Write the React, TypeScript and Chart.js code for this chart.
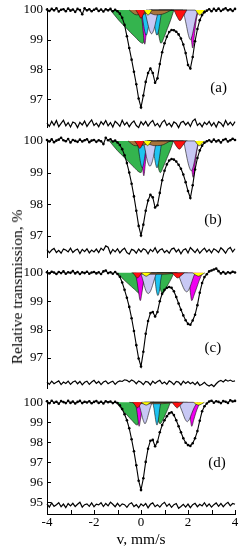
import React, { useEffect, useRef } from 'react';
import { Chart, registerables } from 'chart.js';

Chart.register(...registerables);

const SERIF = '"Liberation Serif", "Times New Roman", Times, serif';

// Velocity grid, mm/s
const velocity = [
  -4.0, -3.9, -3.8, -3.7, -3.6, -3.5, -3.4, -3.3, -3.2, -3.1,
  -3.0, -2.9, -2.8, -2.7, -2.6, -2.5, -2.4, -2.3, -2.2, -2.1,
  -2.0, -1.9, -1.8, -1.7, -1.6, -1.5, -1.4, -1.3, -1.2, -1.1,
  -1.0, -0.9, -0.8, -0.7, -0.6, -0.5, -0.4, -0.3, -0.2, -0.1,
  0.0, 0.1, 0.2, 0.3, 0.4, 0.5, 0.6, 0.7, 0.8, 0.9,
  1.0, 1.1, 1.2, 1.3, 1.4, 1.5, 1.6, 1.7, 1.8, 1.9,
  2.0, 2.1, 2.2, 2.3, 2.4, 2.5, 2.6, 2.7, 2.8, 2.9,
  3.0, 3.1, 3.2, 3.3, 3.4, 3.5, 3.6, 3.7, 3.8, 3.9, 4.0,
];

// Measured spectra, relative transmission %
const specA = [
  100.02, 99.97, 100.04, 99.99, 100.06, 99.95, 100.01, 100.03, 99.96, 100.05,
  99.98, 100.02, 99.94, 100.04, 100.0, 99.86, 100.06, 99.99, 100.03, 99.96,
  100.01, 100.05, 99.97, 100.02, 99.95, 100.03, 99.99, 100.04, 99.96, 100.01,
  99.96, 99.88, 99.74, 99.5, 99.12, 98.72, 98.33, 97.92, 97.5, 97.02,
  96.72, 97.12, 97.58, 97.88, 98.03, 97.88, 97.55, 97.7, 98.18, 98.58,
  98.88, 99.1, 99.26, 99.33, 99.32, 99.27, 99.18, 99.04, 98.84, 98.55,
  98.15, 98.03, 98.42, 98.95, 99.36, 99.66, 99.83, 99.93, 99.98, 100.03,
  99.96, 100.04, 99.98, 100.05, 99.97, 100.02, 100.06, 99.99, 100.03, 99.97, 100.04,
];
const specB = [
  100.03, 99.98, 100.05, 99.96, 100.01, 100.04, 100.1, 100.02, 99.99, 100.06,
  99.95, 100.03, 100.0, 99.97, 100.04, 99.98, 100.02, 100.05, 99.96, 100.01,
  100.03, 99.97, 100.02, 99.99, 99.9, 100.1, 100.02, 100.05, 99.98, 100.01,
  99.95, 99.87, 99.74, 99.55, 99.3, 99.0, 98.65, 98.25, 97.8, 97.32,
  97.02, 97.36, 97.8, 98.12, 98.3, 98.22, 97.9, 97.97, 98.36, 98.76,
  99.06, 99.26, 99.38, 99.43, 99.41, 99.35, 99.25, 99.12, 98.94, 98.7,
  98.42, 98.2, 98.6, 99.1, 99.46, 99.7, 99.85, 99.94, 99.99, 100.02,
  99.97, 100.04, 99.98, 100.02, 99.95, 100.03, 100.06, 99.98, 100.02, 100.07, 100.03,
];
const specC = [
  100.02, 99.98, 100.04, 100.01, 99.96, 100.03, 99.99, 100.05, 99.97, 100.02,
  100.0, 100.06, 99.98, 100.03, 99.96, 100.02, 99.99, 100.04, 99.97, 100.01,
  100.03, 99.98, 100.02, 99.96, 100.05, 100.08, 99.99, 100.02, 99.97, 100.03,
  99.96, 99.86, 99.66, 99.4, 99.12, 98.8, 98.4, 97.95, 97.45, 96.98,
  96.7, 97.22, 97.85, 98.3, 98.58, 98.62, 98.46, 98.62, 99.0, 99.26,
  99.4, 99.47, 99.5, 99.47, 99.35, 99.15, 98.92, 98.7, 98.5, 98.33,
  98.2, 98.17, 98.32, 98.52, 98.86, 99.3, 99.64, 99.85, 99.95, 100.05,
  100.08, 100.12, 100.15, 100.06, 99.98, 100.03, 99.97, 100.02, 99.99, 100.04, 100.01,
];
const specD = [
  100.05, 99.95, 100.08, 99.98, 100.03, 99.93, 100.06, 100.01, 99.96, 100.07,
  99.97, 100.04, 99.94, 100.02, 100.07, 99.96, 100.03, 99.99, 100.05, 99.95,
  100.02, 100.06, 99.97, 100.03, 99.94, 100.05, 100.0, 100.04, 99.96, 100.02,
  99.96, 99.85, 99.66, 99.4, 99.1, 98.7, 98.15, 97.55, 96.85, 96.08,
  95.62, 96.2, 97.02, 97.68, 98.08, 98.12, 97.8, 98.02, 98.5, 98.86,
  99.1, 99.3, 99.45, 99.5, 99.36, 99.1, 98.8, 98.5, 98.2, 97.98,
  97.86, 97.82, 97.95, 98.2, 98.56, 99.08, 99.55, 99.8, 99.94, 100.04,
  100.08, 99.98, 100.05, 100.02, 99.96, 100.06, 100.03, 99.97, 100.1, 100.04, 100.07,
];

// Fit residuals (deviation, %)
const residA = [
  0.03, -0.08, 0.09, -0.04, 0.12, -0.09, 0.02, 0.13, -0.06, 0.05,
  -0.1, 0.07, 0.03, -0.12, 0.06, -0.03, 0.1, -0.08, 0.04, 0.14,
  -0.05, 0.03, -0.09, 0.08, -0.02, 0.12, -0.06, 0.05, -0.1, 0.09,
  0.02, -0.08, 0.13, -0.03, 0.06, -0.09, 0.03, 0.1, -0.05, -0.12,
  0.08, -0.03, 0.09, -0.07, 0.05, 0.12, -0.06, 0.02, -0.1, 0.06,
  0.13, -0.05, 0.03, -0.09, 0.07, 0.02, -0.12, 0.05, 0.09, -0.03,
  0.06, -0.08, 0.1, 0.17, -0.05, 0.03, -0.09, 0.06, -0.02, 0.09,
  -0.06, 0.05, -0.1, 0.08, 0.03, -0.08, 0.12, -0.03, 0.06, -0.05, 0.08,
];
const residB = [
  0.04, -0.06, 0.03, 0.08, -0.05, 0.02, -0.07, 0.06, 0.03, -0.03,
  0.09, -0.05, 0.02, 0.06, -0.08, 0.05, -0.02, 0.07, -0.06, 0.03,
  -0.03, 0.06, -0.05, 0.09, 0.02, 0.16, 0.12, -0.08, 0.05, -0.03,
  0.07, -0.06, 0.03, 0.09, -0.05, -0.1, 0.05, 0.02, -0.07, 0.06,
  -0.03, 0.07, 0.03, -0.09, 0.05, -0.02, 0.1, -0.06, 0.03, 0.07,
  -0.05, 0.02, -0.07, 0.06, 0.09, -0.03, 0.05, -0.09, 0.03, 0.07,
  -0.06, 0.11, 0.03, -0.05, 0.06, -0.07, 0.02, 0.09, -0.03, 0.05,
  -0.06, 0.07, 0.02, -0.05, 0.1, 0.03, -0.07, 0.06, 0.11, -0.03, 0.07,
];
const residC = [
  0.03, -0.05, 0.06, -0.03, 0.02, 0.07, -0.06, 0.03, -0.02, 0.06,
  -0.05, 0.03, 0.07, -0.03, 0.05, -0.07, 0.02, 0.06, -0.05, 0.03,
  0.09, -0.02, 0.05, -0.06, 0.03, 0.07, -0.03, 0.02, 0.06, -0.05,
  0.03, 0.07, 0.05, 0.11, 0.09, 0.03, 0.1, 0.06, -0.03, 0.07,
  0.02, -0.06, 0.05, 0.03, -0.07, 0.06, -0.02, 0.05, 0.09, -0.03,
  0.03, -0.05, 0.07, 0.02, -0.06, 0.05, 0.03, -0.07, 0.06, -0.02,
  0.05, -0.03, 0.02, -0.06, 0.03, -0.09, -0.05, 0.02, -0.07, -0.11,
  -0.06, -0.13, -0.03, 0.05, 0.09, 0.03, 0.11, 0.06, 0.1, 0.05, 0.07,
];
const residD = [
  0.07, -0.09, 0.12, -0.05, 0.03, 0.13, -0.07, 0.06, -0.12, 0.09,
  -0.03, 0.1, -0.06, 0.05, 0.15, -0.09, 0.03, 0.07, -0.05, 0.12,
  -0.07, 0.06, 0.02, 0.13, -0.06, 0.09, -0.03, 0.16, 0.05, -0.07,
  0.1, -0.05, 0.07, 0.03, -0.1, 0.06, 0.13, -0.06, 0.03, -0.12,
  0.07, -0.03, 0.09, -0.13, 0.05, 0.12, -0.07, 0.03, -0.09, 0.06,
  0.15, -0.05, 0.07, -0.1, 0.03, 0.09, -0.15, -0.06, 0.05, -0.09,
  0.06, -0.12, 0.03, 0.1, -0.07, 0.05, -0.03, 0.13, -0.06, 0.07,
  -0.09, 0.03, 0.12, -0.05, 0.09, -0.07, 0.06, 0.15, -0.03, 0.09, 0.05,
];

// Y tick labels per panel
const ticksA = [97, 98, 99, 100];
const ticksB = [97, 98, 99, 100];
const ticksC = [97, 98, 99, 100];
const ticksD = [95, 96, 97, 98, 99, 100];
const xTicks = [-4, -3, -2, -1, 0, 1, 2, 3, 4];
const xLabels = ['-4', '', '-2', '', '0', '', '2', '', '4'];

type Pair = [number, number];

// Subspectra (velocity, transmission) for each panel
const aGreen: Pair[] = [[-1.3, 100], [-0.95, 99.66], [-0.61, 99.38], [-0.26, 99.1], [0.08, 98.88], [0.2, 99.3], [0.32, 99.85], [0.45, 100], [0.58, 99.85], [0.72, 99.3], [0.85, 98.88], [0.99, 99.1], [1.125, 99.38], [1.26, 99.66], [1.4, 100]];
const aMagenta: Pair[] = [[-0.04, 100], [0.04, 99.7], [0.1, 99.2], [0.16, 98.85], [0.22, 99.2], [0.28, 99.7], [0.36, 100], [1.95, 100], [2.04, 99.7], [2.12, 99.2], [2.2, 98.72], [2.28, 99.2], [2.36, 99.7], [2.46, 100]];
const aCyan: Pair[] = [[0.02, 100], [0.06, 99.76], [0.11, 99.5], [0.16, 99.28], [0.22, 99.15], [0.28, 99.28], [0.33, 99.5], [0.38, 99.76], [0.42, 100], [0.48, 100], [0.52, 99.76], [0.57, 99.5], [0.62, 99.28], [0.68, 99.15], [0.74, 99.28], [0.79, 99.5], [0.84, 99.76], [0.88, 100]];
const aLavender: Pair[] = [[0.15, 100], [0.22, 99.78], [0.3, 99.5], [0.37, 99.3], [0.45, 99.2], [0.53, 99.3], [0.6, 99.5], [0.68, 99.78], [0.76, 100], [1.78, 100], [1.86, 99.75], [1.94, 99.45], [2.02, 99.15], [2.1, 99.0], [2.18, 99.15], [2.26, 99.45], [2.34, 99.75], [2.42, 100]];
const aBrown: Pair[] = [[-0.5, 100], [-0.2, 99.84], [0.1, 99.86], [0.35, 99.9], [0.6, 99.84], [0.9, 99.86], [1.3, 100]];
const aRed: Pair[] = [[-0.22, 100], [-0.1, 99.85], [0.0, 99.72], [0.1, 99.85], [0.22, 100], [1.38, 100], [1.52, 99.8], [1.66, 99.64], [1.8, 99.8], [1.95, 100]];
const aYellow: Pair[] = [[0.12, 100], [0.21, 99.9], [0.3, 99.83], [0.39, 99.9], [0.48, 100], [2.3, 100], [2.4, 99.9], [2.5, 99.83], [2.61, 99.9], [2.72, 100]];

const bGreen: Pair[] = [[-1.35, 100], [-1.01, 99.7], [-0.675, 99.45], [-0.34, 99.2], [0.0, 99.0], [0.12, 99.35], [0.24, 99.85], [0.4, 100], [0.55, 99.85], [0.68, 99.35], [0.82, 99.0], [0.96, 99.2], [1.1, 99.45], [1.24, 99.7], [1.38, 100]];
const bMagenta: Pair[] = [[-0.08, 100], [0.0, 99.7], [0.06, 99.25], [0.12, 98.9], [0.18, 99.25], [0.24, 99.7], [0.32, 100], [1.97, 100], [2.06, 99.7], [2.14, 99.25], [2.22, 98.85], [2.3, 99.25], [2.38, 99.7], [2.48, 100]];
const bCyan: Pair[] = [[-0.15, 100], [-0.11, 99.76], [-0.06, 99.5], [-0.01, 99.28], [0.05, 99.15], [0.11, 99.28], [0.16, 99.5], [0.21, 99.76], [0.25, 100], [0.48, 100], [0.52, 99.76], [0.57, 99.5], [0.62, 99.28], [0.68, 99.15], [0.74, 99.28], [0.79, 99.5], [0.84, 99.76], [0.88, 100]];
const bLavender: Pair[] = [[0.08, 100], [0.16, 99.78], [0.23, 99.5], [0.3, 99.3], [0.38, 99.2], [0.46, 99.3], [0.53, 99.5], [0.6, 99.78], [0.68, 100], [1.8, 100], [1.88, 99.75], [1.96, 99.45], [2.05, 99.18], [2.14, 99.06], [2.22, 99.18], [2.3, 99.45], [2.38, 99.75], [2.45, 100]];
const bBrown: Pair[] = [[-0.55, 100], [-0.25, 99.85], [0.05, 99.86], [0.3, 99.9], [0.55, 99.85], [0.85, 99.86], [1.25, 100]];
const bRed: Pair[] = [[-0.27, 100], [-0.15, 99.87], [-0.05, 99.76], [0.05, 99.87], [0.17, 100], [1.35, 100], [1.49, 99.85], [1.63, 99.74], [1.77, 99.85], [1.92, 100]];
const bYellow: Pair[] = [[0.1, 100], [0.19, 99.91], [0.28, 99.85], [0.37, 99.91], [0.46, 100], [2.28, 100], [2.38, 99.91], [2.48, 99.85], [2.59, 99.91], [2.7, 100]];

const cGreen: Pair[] = [[-1.0, 100], [-0.76, 99.78], [-0.52, 99.6], [-0.28, 99.42], [-0.04, 99.27], [0.06, 99.5], [0.16, 99.9], [0.3, 100], [0.6, 100], [0.72, 99.7], [0.82, 99.42], [0.92, 99.27], [1.04, 99.42], [1.16, 99.6], [1.28, 99.78], [1.4, 100]];
const cMagenta: Pair[] = [[-0.25, 100], [-0.17, 99.7], [-0.1, 99.3], [-0.03, 99.02], [0.04, 99.3], [0.11, 99.7], [0.19, 100], [1.98, 100], [2.05, 99.7], [2.1, 99.3], [2.16, 99.02], [2.26, 99.22], [2.38, 99.5], [2.5, 99.78], [2.62, 100]];
const cCyan: Pair[] = [[0.55, 100], [0.6, 99.75], [0.64, 99.45], [0.68, 99.27], [0.72, 99.2], [0.76, 99.27], [0.8, 99.45], [0.84, 99.75], [0.9, 100]];
const cLavender: Pair[] = [[-0.02, 100], [0.06, 99.8], [0.14, 99.55], [0.22, 99.35], [0.31, 99.27], [0.4, 99.35], [0.49, 99.55], [0.58, 99.8], [0.68, 100], [1.55, 100], [1.65, 99.8], [1.75, 99.58], [1.85, 99.4], [1.94, 99.33], [2.03, 99.4], [2.12, 99.58], [2.21, 99.8], [2.3, 100]];
const cBrown: Pair[] = [[-0.4, 100], [0.2, 99.95], [1.0, 99.95], [1.5, 100]];
const cRed: Pair[] = [[-0.35, 100], [-0.25, 99.9], [-0.15, 99.82], [-0.05, 99.9], [0.05, 100], [1.3, 100], [1.43, 99.9], [1.56, 99.82], [1.7, 99.9], [1.85, 100]];
const cYellow: Pair[] = [[0.0, 100], [0.11, 99.93], [0.22, 99.88], [0.33, 99.93], [0.45, 100], [2.18, 100], [2.31, 99.93], [2.45, 99.88], [2.58, 99.93], [2.72, 100]];

const dGreen: Pair[] = [[-1.05, 100], [-0.83, 99.66], [-0.6, 99.37], [-0.38, 99.09], [-0.16, 98.86], [-0.05, 99.3], [0.05, 99.85], [0.2, 100], [0.55, 100], [0.65, 99.5], [0.73, 99.1], [0.81, 98.93], [0.92, 99.09], [1.03, 99.37], [1.14, 99.66], [1.25, 100]];
const dMagenta: Pair[] = [[-0.25, 100], [-0.18, 99.6], [-0.13, 99.15], [-0.08, 98.8], [-0.02, 99.15], [0.04, 99.6], [0.12, 100], [1.98, 100], [2.04, 99.6], [2.1, 99.15], [2.16, 98.8], [2.24, 99.1], [2.34, 99.5], [2.44, 99.8], [2.52, 100]];
const dCyan: Pair[] = [[0.5, 100], [0.55, 99.7], [0.6, 99.3], [0.64, 99.0], [0.68, 98.86], [0.72, 99.0], [0.76, 99.3], [0.8, 99.7], [0.85, 100]];
const dLavender: Pair[] = [[-0.12, 100], [-0.05, 99.75], [0.02, 99.42], [0.1, 99.08], [0.17, 98.93], [0.24, 99.08], [0.32, 99.42], [0.4, 99.75], [0.5, 100], [1.58, 100], [1.68, 99.75], [1.78, 99.45], [1.88, 99.15], [1.97, 99.03], [2.06, 99.15], [2.16, 99.45], [2.27, 99.75], [2.4, 100]];
const dBrown: Pair[] = [[-0.5, 100], [0.1, 99.93], [0.9, 99.93], [1.5, 100]];
const dRed: Pair[] = [[-0.35, 100], [-0.25, 99.85], [-0.15, 99.72], [-0.05, 99.85], [0.05, 100], [1.3, 100], [1.42, 99.85], [1.54, 99.72], [1.66, 99.85], [1.8, 100]];
const dYellow: Pair[] = [[0.02, 100], [0.12, 99.91], [0.22, 99.86], [0.32, 99.91], [0.42, 100], [2.22, 100], [2.33, 99.91], [2.45, 99.86], [2.57, 99.91], [2.7, 100]];

const COLORS: Record<string, string> = {
  yellow: '#ffff00',
  red: '#ff1010',
  brown: '#a8743c',
  lavender: '#c8c8f4',
  cyan: '#1ec3f0',
  magenta: '#f000f0',
  green: '#34b44e',
};

type PanelCfg = {
  label: string;
  labelAt: [number, number];
  spectrum: number[];
  residual: number[];
  residualLevel: number;
  yMin: number;
  yMax: number;
  yTicks: number[];
  canvasTop: number;
  canvasHeight: number;
  showX: boolean;
  comps: { name: string; pts: Pair[] }[];
};

const panels: PanelCfg[] = [
  {
    label: '(a)', labelAt: [3.3, 97.37], spectrum: specA, residual: residA, residualLevel: 96.16,
    yMin: 96.06, yMax: 100.07, yTicks: ticksA, canvasTop: -4, canvasHeight: 143, showX: false,
    comps: [
      { name: 'yellow', pts: aYellow }, { name: 'red', pts: aRed }, { name: 'brown', pts: aBrown },
      { name: 'lavender', pts: aLavender }, { name: 'cyan', pts: aCyan }, { name: 'magenta', pts: aMagenta },
      { name: 'green', pts: aGreen },
    ],
  },
  {
    label: '(b)', labelAt: [3.06, 97.5], spectrum: specB, residual: residB, residualLevel: 96.53,
    yMin: 96.34, yMax: 100.06, yTicks: ticksB, canvasTop: 127, canvasHeight: 142, showX: false,
    comps: [
      { name: 'yellow', pts: bYellow }, { name: 'red', pts: bRed }, { name: 'brown', pts: bBrown },
      { name: 'lavender', pts: bLavender }, { name: 'cyan', pts: bCyan }, { name: 'magenta', pts: bMagenta },
      { name: 'green', pts: bGreen },
    ],
  },
  {
    label: '(c)', labelAt: [3.06, 97.35], spectrum: specC, residual: residC, residualLevel: 96.12,
    yMin: 95.94, yMax: 100.1, yTicks: ticksC, canvasTop: 258, canvasHeight: 142, showX: false,
    comps: [
      { name: 'yellow', pts: cYellow }, { name: 'red', pts: cRed }, { name: 'brown', pts: cBrown },
      { name: 'lavender', pts: cLavender }, { name: 'cyan', pts: cCyan }, { name: 'magenta', pts: cMagenta },
      { name: 'green', pts: cGreen },
    ],
  },
  {
    label: '(d)', labelAt: [3.23, 96.97], spectrum: specD, residual: residD, residualLevel: 94.85,
    yMin: 94.415, yMax: 100.115, yTicks: ticksD, canvasTop: 388, canvasHeight: 162, showX: true,
    comps: [
      { name: 'yellow', pts: dYellow }, { name: 'red', pts: dRed }, { name: 'brown', pts: dBrown },
      { name: 'lavender', pts: dLavender }, { name: 'cyan', pts: dCyan }, { name: 'magenta', pts: dMagenta },
      { name: 'green', pts: dGreen },
    ],
  },
];

const decorPlugin = {
  id: 'decor',
  afterDraw(chart: any, _args: any, opts: any) {
    const { ctx, chartArea, scales } = chart;
    const ys = scales.y;
    const xs = scales.x;
    ctx.save();
    ctx.strokeStyle = '#000';
    ctx.lineWidth = 1;
    ys.ticks.forEach((t: any) => {
      const py = Math.round(ys.getPixelForValue(t.value)) + 0.5;
      ctx.beginPath();
      ctx.moveTo(chartArea.left, py);
      ctx.lineTo(chartArea.left + 4, py);
      ctx.stroke();
    });
    if (opts.showX) {
      xs.ticks.forEach((t: any) => {
        const px = Math.round(xs.getPixelForValue(t.value)) + 0.5;
        ctx.beginPath();
        ctx.moveTo(px, chartArea.bottom);
        ctx.lineTo(px, chartArea.bottom - 4);
        ctx.stroke();
      });
    }
    ctx.fillStyle = '#000';
    ctx.font = `15px ${SERIF}`;
    ctx.textAlign = 'center';
    ctx.textBaseline = 'middle';
    ctx.fillText(opts.label, xs.getPixelForValue(opts.labelAt[0]), ys.getPixelForValue(opts.labelAt[1]));
    ctx.restore();
  },
};

function Panel({ cfg }: { cfg: PanelCfg }) {
  const ref = useRef<HTMLCanvasElement>(null);
  useEffect(() => {
    if (!ref.current) return;
    const datasets: any[] = [];
    datasets.push({
      label: 'spectrum',
      data: velocity.map((v, i) => ({ x: v, y: cfg.spectrum[i] })),
      borderColor: '#000',
      borderWidth: 1.1,
      pointRadius: 1.3,
      pointBorderWidth: 0,
      pointBackgroundColor: '#000',
      fill: false,
      clip: false,
      order: 0,
    });
    datasets.push({
      label: 'residual',
      data: velocity.map((v, i) => ({ x: v, y: cfg.residualLevel + cfg.residual[i] })),
      borderColor: '#000',
      borderWidth: 1.2,
      pointRadius: 0,
      fill: false,
      clip: false,
      order: 1,
    });
    cfg.comps.forEach((c, k) => {
      datasets.push({
        label: c.name,
        data: c.pts.map(([x, y]) => ({ x, y })),
        borderColor: '#111',
        borderWidth: 0.6,
        backgroundColor: COLORS[c.name],
        pointRadius: 0,
        fill: { value: 100 },
        cubicInterpolationMode: 'monotone',
        order: 2 + k,
      });
    });
    const chart = new Chart(ref.current, {
      type: 'line',
      data: { datasets },
      plugins: [decorPlugin],
      options: {
        animation: false,
        responsive: false,
        devicePixelRatio: 1,
        events: [],
        layout: { padding: { top: 12, bottom: cfg.showX ? 0 : 12, left: 0, right: 17 } },
        plugins: {
          legend: { display: false },
          tooltip: { enabled: false },
          decor: { showX: cfg.showX, label: cfg.label, labelAt: cfg.labelAt },
        } as any,
        scales: {
          x: {
            type: 'linear',
            min: -4,
            max: 4,
            display: cfg.showX,
            afterBuildTicks: (s: any) => { s.ticks = xTicks.map((v) => ({ value: v })); },
            afterFit: (s: any) => { s.height = cfg.showX ? 36 : 0; },
            grid: { display: true, drawOnChartArea: false, drawTicks: false },
            border: { display: true, color: '#000', width: 1 },
            ticks: {
              autoSkip: false,
              maxRotation: 0,
              padding: 1,
              color: '#000',
              font: { family: SERIF, size: 13 },
              callback: (_v: any, i: number) => xLabels[i],
            },
            title: {
              display: true,
              text: 'v, mm/s',
              color: '#000',
              font: { family: SERIF, size: 15.5 },
              padding: { top: 0, bottom: 1 },
            },
          },
          y: {
            type: 'linear',
            min: cfg.yMin,
            max: cfg.yMax,
            afterBuildTicks: (s: any) => { s.ticks = cfg.yTicks.map((v) => ({ value: v })); },
            afterFit: (s: any) => { s.width = 47; },
            grid: { display: true, drawOnChartArea: false, drawTicks: false },
            border: { display: true, color: '#000', width: 1 },
            ticks: {
              padding: 4,
              color: '#000',
              font: { family: SERIF, size: 13 },
              callback: (v: any) => String(v),
            },
          },
        },
      } as any,
    });
    return () => chart.destroy();
  }, [cfg]);
  return (
    <canvas
      ref={ref}
      width={252}
      height={cfg.canvasHeight}
      style={{ position: 'absolute', left: 0, top: cfg.canvasTop, width: 252, height: cfg.canvasHeight, display: 'block' }}
    />
  );
}

export default function App() {
  return (
    <div style={{ position: 'fixed', left: 0, top: 0, width: 252, height: 550, background: '#fff', overflow: 'hidden' }}>
      {panels.map((p) => (
        <Panel key={p.label} cfg={p} />
      ))}
      <div
        style={{
          position: 'absolute',
          left: 17,
          top: 287,
          transform: 'translate(-50%, -50%) rotate(-90deg)',
          whiteSpace: 'nowrap',
          font: `15.5px ${SERIF}`,
          color: '#000',
          lineHeight: '16px',
        }}
      >
        Relative transmission, %
      </div>
    </div>
  );
}
